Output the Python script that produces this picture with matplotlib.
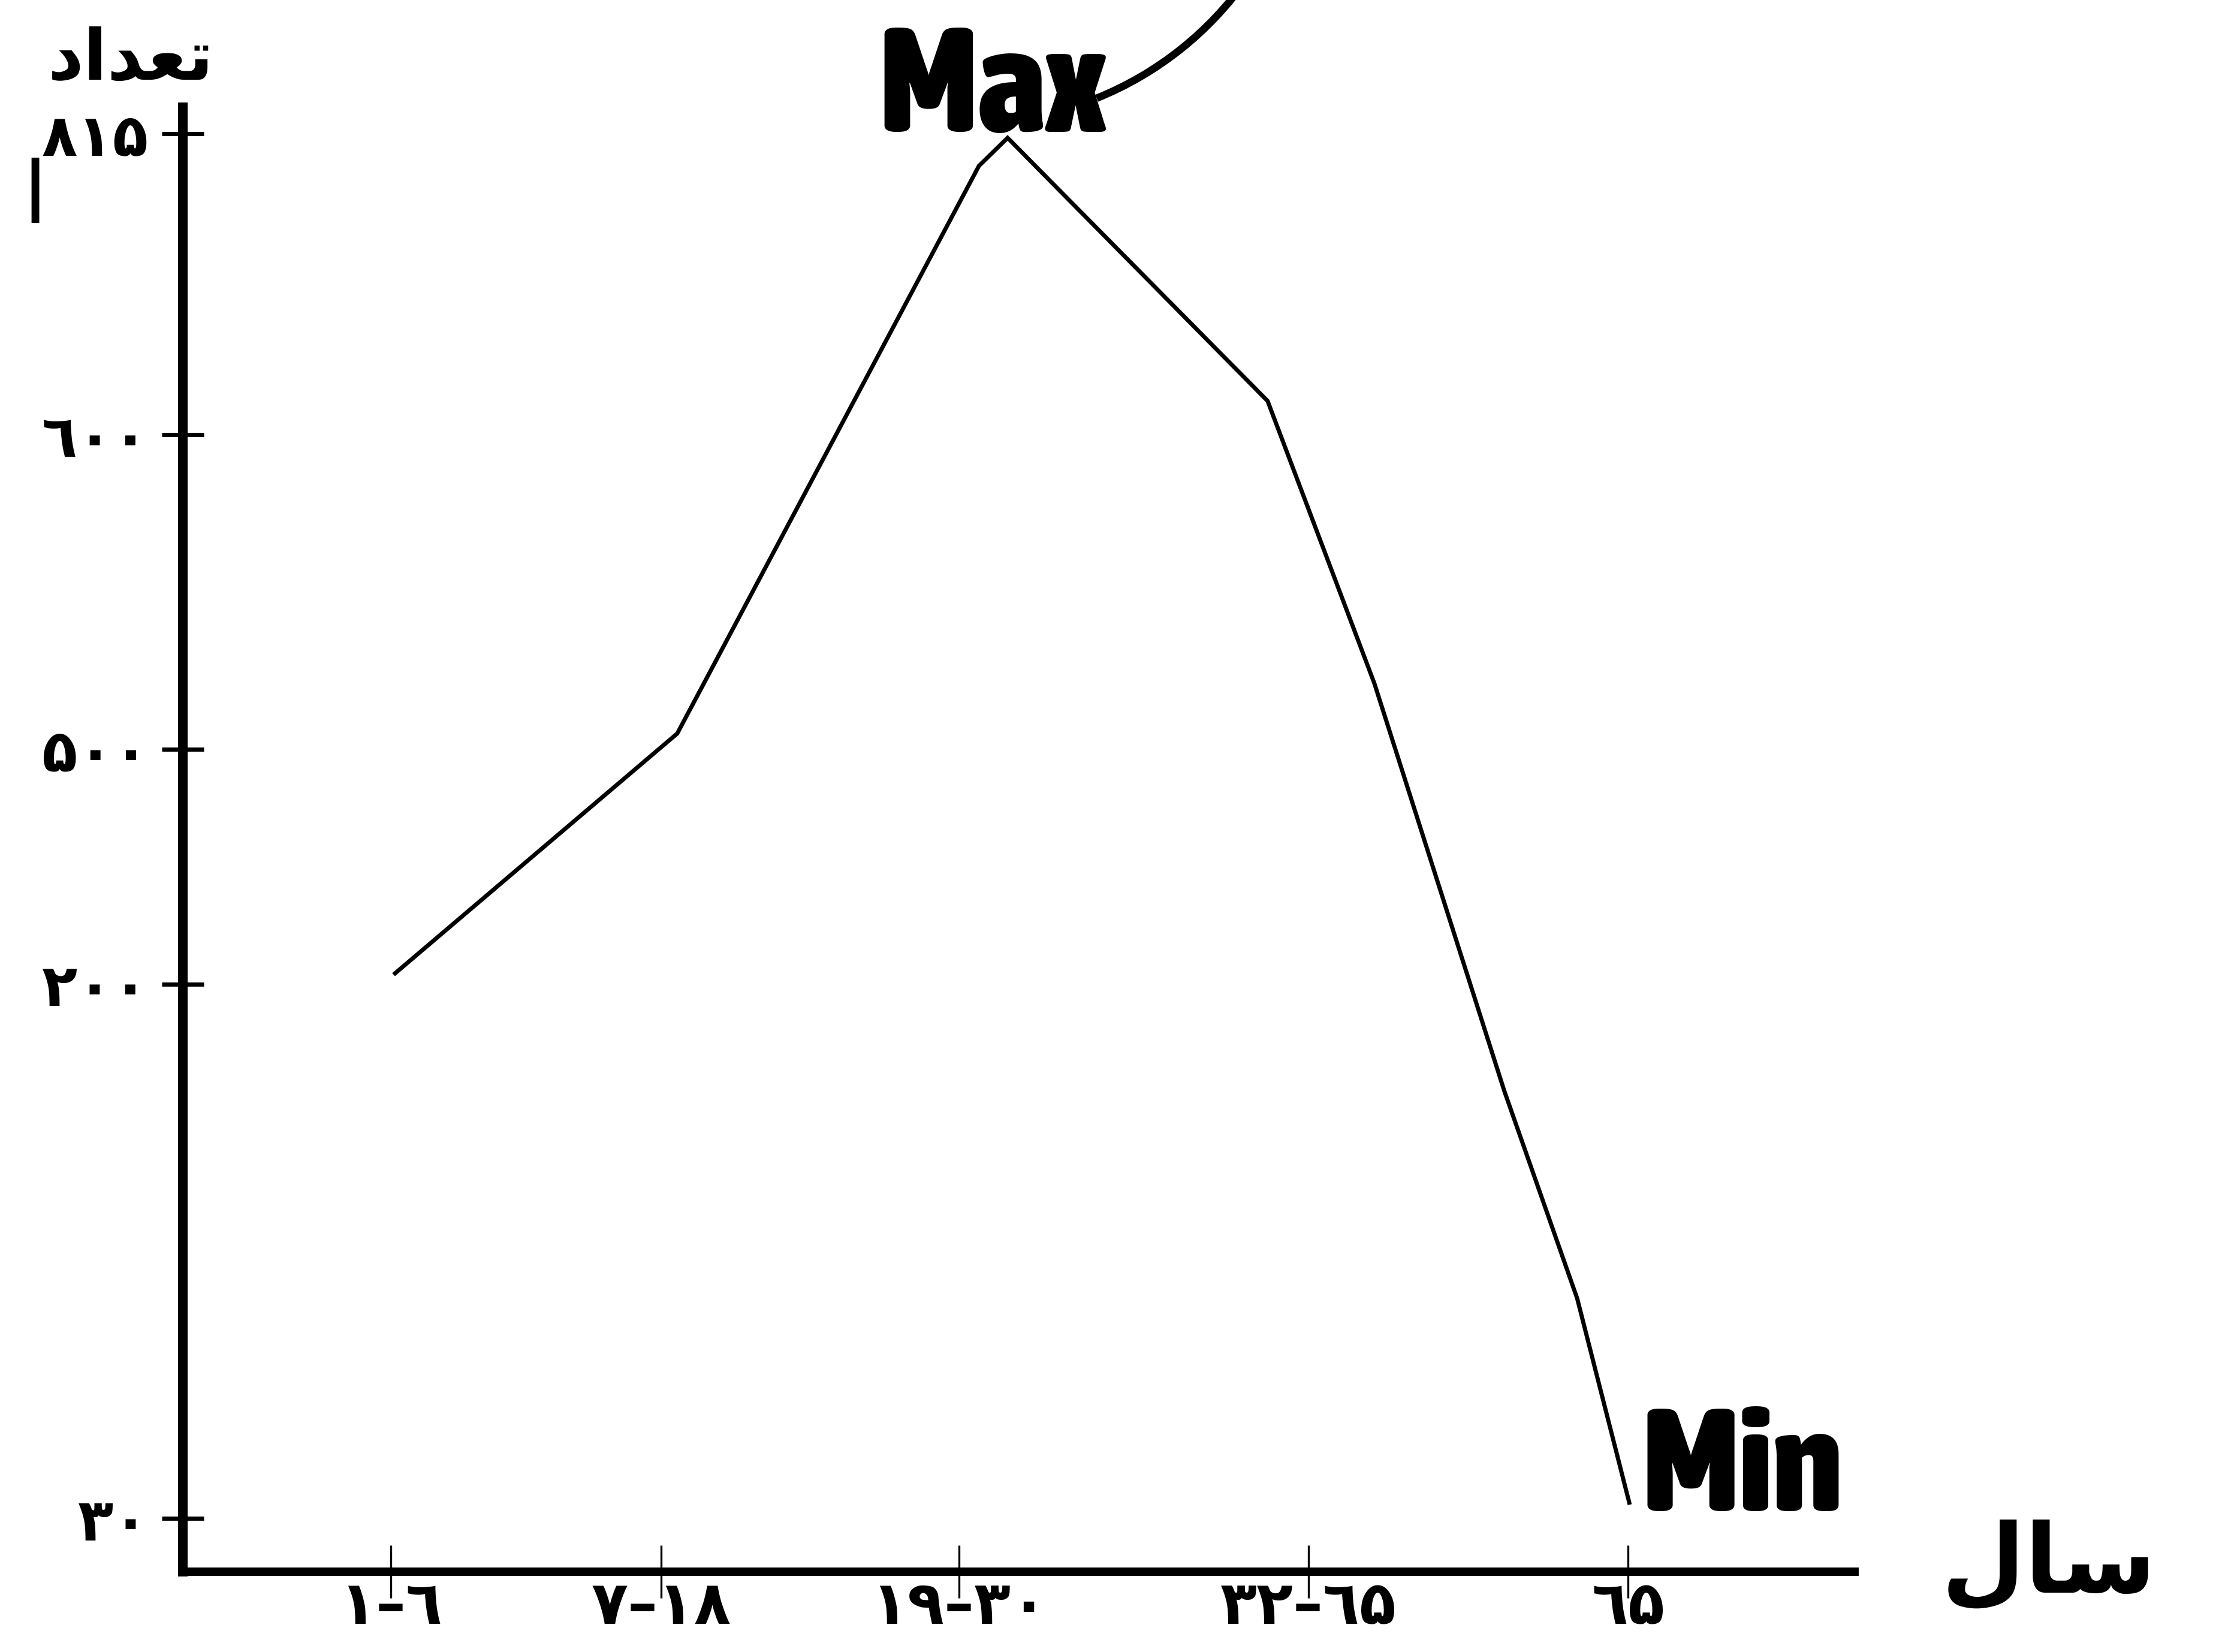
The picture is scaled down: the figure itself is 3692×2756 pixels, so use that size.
"""Hand-drawn style age/count curve with Max/Min annotations."""

import matplotlib

matplotlib.use("Agg")

import numpy as np
import matplotlib.pyplot as plt
from matplotlib import font_manager as fm
from matplotlib.font_manager import FontProperties
from matplotlib.patches import Arc

# --- data -------------------------------------------------------------
AGE_GROUPS = ["۱–٦", "۷–۱۸", "۱۹–۳۰", "۳۲–٦۵", "٦۵"]
COUNT_TICKS = [30, 200, 500, 600, 815]
COUNT_LABELS = ["۳۰", "۲۰۰", "۵۰۰", "٦۰۰", "۸۱۵"]

# curve vertices: position along the age axis (in group units) and count
LINE_POS = [0.016, 1.054, 2.057, 2.139, 2.883, 3.206, 3.613, 3.841, 4.004]
LINE_COUNT = [214, 505, 792, 812, 624, 521, 166, 100, 35]

# Persian titles, written in presentation forms so they join without a shaper
Y_TITLE = "\uFEA9\uFE8D\uFEAA\uFECC\uFE97"  # تعداد
X_TITLE = "\uFEDD\uFE8E\uFEB3"  # سال

# --- layout (pixels of the 3692 x 2756 canvas) -----------------------
W, H, DPI = 3692, 2756, 200
AX_LEFT, AX_RIGHT, AX_TOP, AX_BOTTOM = 305, 3094, 179, 2622
X_TICK_PX = [652, 1103, 1600, 2183, 2716]
Y_TICK_PX = [2533, 1642, 1250, 725, 223]

ARABIC = ["DejaVu Sans"]


def fx(px: float) -> float:
    return px / W


def fy(py: float) -> float:
    return 1 - py / H


def piecewise_scale(values, pixels, lo_px, hi_px):
    """Forward/inverse pair for an axis drawn with uneven tick spacing."""
    v = list(values)
    p = list(pixels)
    lo = v[0] - (p[0] - lo_px) * (v[1] - v[0]) / (p[1] - p[0])
    hi = v[-1] + (hi_px - p[-1]) * (v[-1] - v[-2]) / (p[-1] - p[-2])
    kv = np.array([lo] + v + [hi], dtype=float)
    kp = np.array([lo_px] + p + [hi_px], dtype=float)

    def forward(x):
        return np.interp(x, kv, kp)

    def inverse(x):
        return np.interp(x, kp, kv)

    return (forward, inverse), (lo, hi)


def heavy_narrow_font() -> FontProperties:
    """Boldest condensed face that is installed, else DejaVu Sans Bold."""
    best = None
    for entry in fm.fontManager.ttflist:
        stretch = str(entry.stretch).lower()
        narrow = (
            "condensed" in stretch
            or "narrow" in entry.name.lower()
            or "condensed" in entry.name.lower()
        )
        if not narrow or entry.style != "normal":
            continue
        weight = entry.weight
        if not isinstance(weight, int):
            weight = fm.weight_dict.get(weight, 400)
        if weight < 600:
            continue
        if best is None or weight > best[0]:
            best = (weight, entry.fname)
    if best is None:
        return FontProperties(family="DejaVu Sans", weight="bold")
    return FontProperties(fname=best[1])


def fitted_label(fig, text, left_px, base_px, width_px, cap_px, prop):
    """Place a label sized to its cap height, easing off if it runs too wide."""
    size = cap_px / (0.72 * DPI / 72)
    label = fig.text(fx(left_px), fy(base_px), text, ha="left", va="baseline",
                     fontproperties=prop, fontsize=size)
    renderer = fig.canvas.get_renderer()
    width = label.get_window_extent(renderer).width
    if width > width_px * 1.05:
        size = np.sqrt(size * size * width_px / width)
        label.set_fontsize(size)
    return label


plt.rcParams["font.family"] = ARABIC

fig = plt.figure(figsize=(W / DPI, H / DPI), dpi=DPI)
ax = fig.add_axes(
    [fx(AX_LEFT), fy(AX_BOTTOM), (AX_RIGHT - AX_LEFT) / W, (AX_BOTTOM - AX_TOP) / H]
)

x_funcs, x_lim = piecewise_scale(
    range(len(AGE_GROUPS)), X_TICK_PX, AX_LEFT, AX_RIGHT
)
y_funcs, y_lim = piecewise_scale(
    COUNT_TICKS, [AX_BOTTOM - p for p in Y_TICK_PX], 0, AX_BOTTOM - AX_TOP
)
ax.set_xscale("function", functions=x_funcs)
ax.set_yscale("function", functions=y_funcs)
ax.set_xlim(*x_lim)
ax.set_ylim(*y_lim)

ax.plot(LINE_POS, LINE_COUNT, color="black", linewidth=2.5, solid_joinstyle="miter")

for side in ("top", "right"):
    ax.spines[side].set_visible(False)
ax.spines["left"].set_linewidth(5.8)
ax.spines["bottom"].set_linewidth(5.0)

ax.set_xticks(range(len(AGE_GROUPS)))
ax.set_xticklabels(AGE_GROUPS, fontsize=36, fontweight="bold")
ax.set_yticks(COUNT_TICKS)
ax.set_yticklabels(COUNT_LABELS, fontsize=35, fontweight="bold")
ax.minorticks_off()
ax.tick_params(axis="x", direction="inout", length=32, width=1.2, pad=-12)
ax.tick_params(axis="y", direction="inout", length=25, width=2.5, pad=8)
for label in ax.get_xticklabels():
    label.set_x(label.get_position()[0])

# titles
fig.text(fx(218), fy(100), Y_TITLE, ha="center", va="center",
         fontsize=42, fontweight="bold", family=ARABIC)
fig.text(fx(3418), fy(2612), X_TITLE, ha="center", va="center",
         fontsize=58, fontweight="bold", family=ARABIC)
fig.text(fx(58), fy(332), "ا", ha="center", va="center",
         fontsize=52, family=ARABIC)

# Max / Min callouts
narrow = heavy_narrow_font()
fitted_label(fig, "Max", 1466, 220, 365, 177, narrow)
fitted_label(fig, "Min", 2740, 2521, 320, 182, narrow)

# hand-drawn swoosh leaving the Max label (drawn in inches so it stays round)
radius = 565
arc = Arc(
    (1618 / DPI, (H + 360) / DPI),
    2 * radius / DPI,
    2 * radius / DPI,
    theta1=-68,
    theta2=-35,
    transform=fig.dpi_scale_trans,
    color="black",
    linewidth=4.5,
)
fig.add_artist(arc)

fig.savefig("out.png", dpi=DPI)
